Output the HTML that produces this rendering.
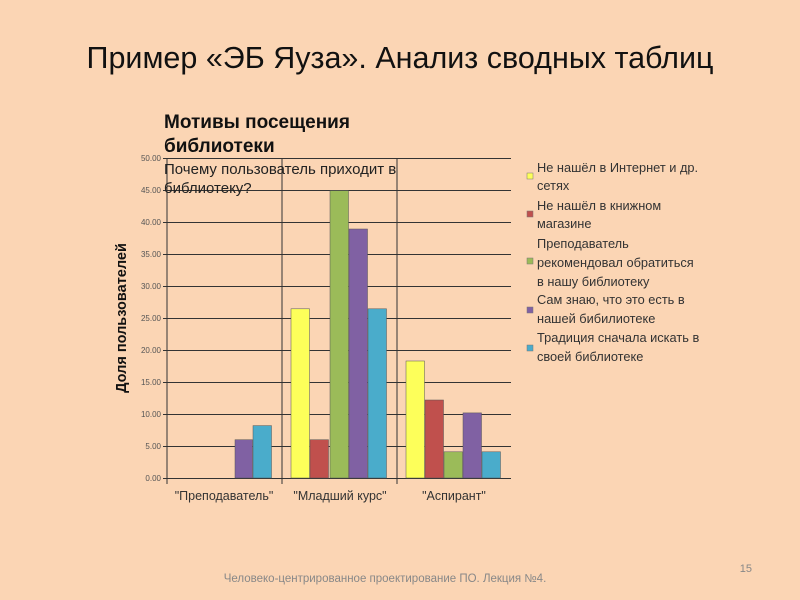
<!DOCTYPE html>
<html><head><meta charset="utf-8"><style>
body{margin:0;width:800px;height:600px;background:#fbd5b4;overflow:hidden;font-family:"Liberation Sans","DejaVu Sans",sans-serif}
</style></head><body>
<svg width="800" height="600" xmlns="http://www.w3.org/2000/svg" style="position:absolute;left:0;top:0">
<rect width="800" height="600" fill="#fbd5b4"/>
<text x="400" y="68" text-anchor="middle" font-size="30.5" fill="#111" font-family="Liberation Sans, sans-serif">Пример «ЭБ Яуза». Анализ сводных таблиц</text>
<g stroke="#333" stroke-width="1">
<line x1="163" y1="158.5" x2="511" y2="158.5"/>
<line x1="163" y1="190.5" x2="511" y2="190.5"/>
<line x1="163" y1="222.5" x2="511" y2="222.5"/>
<line x1="163" y1="254.5" x2="511" y2="254.5"/>
<line x1="163" y1="286.5" x2="511" y2="286.5"/>
<line x1="163" y1="318.5" x2="511" y2="318.5"/>
<line x1="163" y1="350.5" x2="511" y2="350.5"/>
<line x1="163" y1="382.5" x2="511" y2="382.5"/>
<line x1="163" y1="414.5" x2="511" y2="414.5"/>
<line x1="163" y1="446.5" x2="511" y2="446.5"/>
<line x1="163" y1="478.5" x2="511" y2="478.5"/>
<line x1="167" y1="158" x2="167" y2="484"/>
<line x1="282" y1="158" x2="282" y2="484"/>
<line x1="397" y1="158" x2="397" y2="484"/>
</g>
<g font-size="8" fill="#555" text-anchor="end">
<text x="161" y="161">50.00</text><text x="161" y="193">45.00</text><text x="161" y="225">40.00</text><text x="161" y="257">35.00</text><text x="161" y="289">30.00</text><text x="161" y="321">25.00</text><text x="161" y="353">20.00</text><text x="161" y="385">15.00</text><text x="161" y="417">10.00</text><text x="161" y="449">5.00</text><text x="161" y="481">0.00</text>
</g>
<g stroke="#555" stroke-width="0.5">
<rect x="235" y="439.7" width="17.5" height="38.3" fill="#8061a3"/>
<rect x="253" y="425.6" width="18.5" height="52.4" fill="#4aaccb"/>
<rect x="291" y="308.8" width="18.5" height="169.2" fill="#fdff5a"/>
<rect x="310" y="439.7" width="18.5" height="38.3" fill="#c0504d"/>
<rect x="330" y="190.6" width="18.5" height="287.4" fill="#9bbb59"/>
<rect x="349" y="229" width="18.5" height="249" fill="#8061a3"/>
<rect x="368" y="308.8" width="18.5" height="169.2" fill="#4aaccb"/>
<rect x="406" y="361" width="18.5" height="117" fill="#fdff5a"/>
<rect x="425" y="400" width="18.5" height="78" fill="#c0504d"/>
<rect x="444" y="451.8" width="18.5" height="26.2" fill="#9bbb59"/>
<rect x="463" y="412.9" width="18.5" height="65.1" fill="#8061a3"/>
<rect x="482" y="451.8" width="18.5" height="26.2" fill="#4aaccb"/>
</g>
<g font-size="12.5" fill="#333" text-anchor="middle">
<text x="224" y="500">"Преподаватель"</text><text x="340" y="500">"Младший курс"</text><text x="454" y="500">"Аспирант"</text>
</g>
<text transform="translate(126,318) rotate(-90)" text-anchor="middle" font-size="14.5" font-weight="bold" fill="#111">Доля пользователей</text>
<text x="164" y="128" font-size="19" font-weight="bold" fill="#111">Мотивы посещения</text>
<text x="164" y="152" font-size="19" font-weight="bold" fill="#111">библиотеки</text>
<text x="164" y="174" font-size="15" fill="#222">Почему пользователь приходит в</text>
<text x="164" y="193" font-size="15" fill="#222">библиотеку?</text>
<g font-size="12.8" fill="#333">
<rect x="527" y="173" width="6" height="6" fill="#fdff5a" stroke="#777" stroke-width="0.5"/>
<text x="537" y="172">Не нашёл в Интернет и др.</text><text x="537" y="190">сетях</text>
<rect x="527" y="211" width="6" height="6" fill="#c0504d" stroke="#777" stroke-width="0.5"/>
<text x="537" y="210">Не нашёл в книжном</text><text x="537" y="228">магазине</text>
<rect x="527" y="258" width="6" height="6" fill="#9bbb59" stroke="#777" stroke-width="0.5"/>
<text x="537" y="248">Преподаватель</text><text x="537" y="267">рекомендовал обратиться</text><text x="537" y="286">в нашу библиотеку</text>
<rect x="527" y="307" width="6" height="6" fill="#8061a3" stroke="#777" stroke-width="0.5"/>
<text x="537" y="304">Сам знаю, что это есть в</text><text x="537" y="323">нашей бибилиотеке</text>
<rect x="527" y="345" width="6" height="6" fill="#4aaccb" stroke="#777" stroke-width="0.5"/>
<text x="537" y="342">Традиция сначала искать в</text><text x="537" y="361">своей библиотеке</text>
</g>
<text x="385" y="582" text-anchor="middle" font-size="11.5" fill="#888">Человеко-центрированное проектирование ПО. Лекция №4.</text>
<text x="752" y="572" text-anchor="end" font-size="11" fill="#888">15</text>
</svg>
</body></html>
